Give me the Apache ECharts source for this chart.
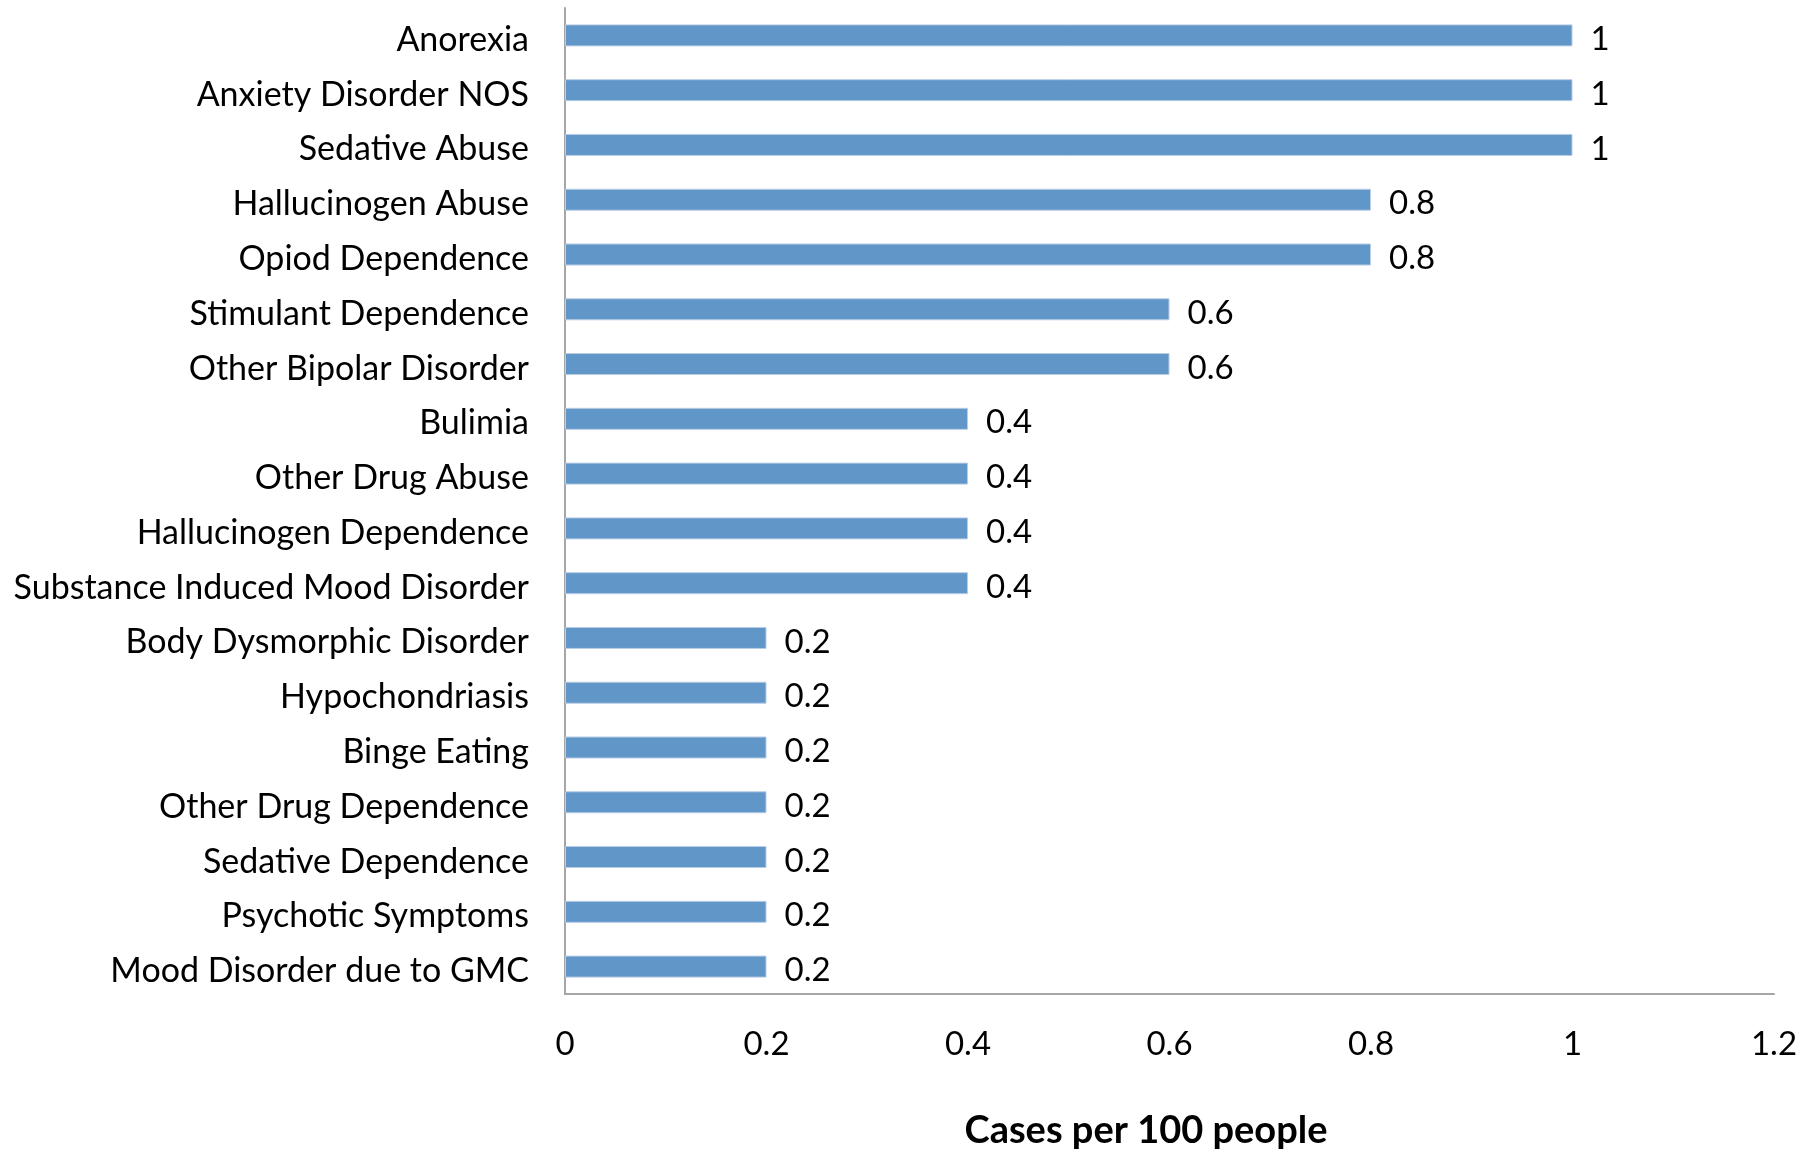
<!DOCTYPE html>
<html><head><meta charset="utf-8">
<script src="https://cdn.jsdelivr.net/npm/echarts@6/dist/echarts.min.js"></script>
<style>html,body{margin:0;padding:0;background:#fff}#c{width:1816px;height:1152px}</style>
</head><body><div id="c"></div>
<script>
const categories = ["Anorexia","Anxiety Disorder NOS","Sedative Abuse","Hallucinogen Abuse","Opiod Dependence","Stimulant Dependence","Other Bipolar Disorder","Bulimia","Other Drug Abuse","Hallucinogen Dependence","Substance Induced Mood Disorder","Body Dysmorphic Disorder","Hypochondriasis","Binge Eating","Other Drug Dependence","Sedative Dependence","Psychotic Symptoms","Mood Disorder due to GMC"];
const values = [1,1,1,0.8,0.8,0.6,0.6,0.4,0.4,0.4,0.4,0.2,0.2,0.2,0.2,0.2,0.2,0.2];
const xTicks = [0,0.2,0.4,0.6,0.8,1,1.2];
const axisTitle = "Cases per 100 people";

const FONT = 'Lato';
const chart = echarts.init(document.getElementById('c'), null, {renderer:'canvas'});
chart.setOption({
  animation:false,
  backgroundColor:'#fff',
  grid:{left:565,right:42,top:8,bottom:158},
  xAxis:{type:'value',min:xTicks[0],max:xTicks[xTicks.length-1],interval:0.2,
    axisLine:{show:true,lineStyle:{color:'#A6A6A6',width:2}},
    axisTick:{show:false},splitLine:{show:false},
    axisLabel:{margin:34,fontFamily:FONT,fontSize:33,color:'#000',formatter:v=>String(Math.round(v*10)/10)}},
  yAxis:{type:'category',data:categories,inverse:true,
    axisLine:{show:true,lineStyle:{color:'#A6A6A6',width:2}},
    axisTick:{show:false},
    axisLabel:{margin:36,fontFamily:FONT,fontSize:34,color:'#000',
      formatter:v=>'{a|'+v+'}',
      rich:{a:{fontFamily:FONT,fontSize:34,color:'#000',padding:[9,0,0,0]}}}},
  series:[{type:'bar',data:values,barWidth:22,
    itemStyle:{color:'#6196C9',borderColor:'#B9CDE5',borderWidth:1},
    label:{show:true,position:'right',distance:18,offset:[0,4],fontFamily:FONT,fontSize:33,color:'#000'}}],
  graphic:[{type:'text',x:1146,y:1131,style:{text:axisTitle,fontFamily:FONT,fontWeight:'bold',fontSize:38,fill:'#000',align:'center',verticalAlign:'middle'}}]
});
</script></body></html>
